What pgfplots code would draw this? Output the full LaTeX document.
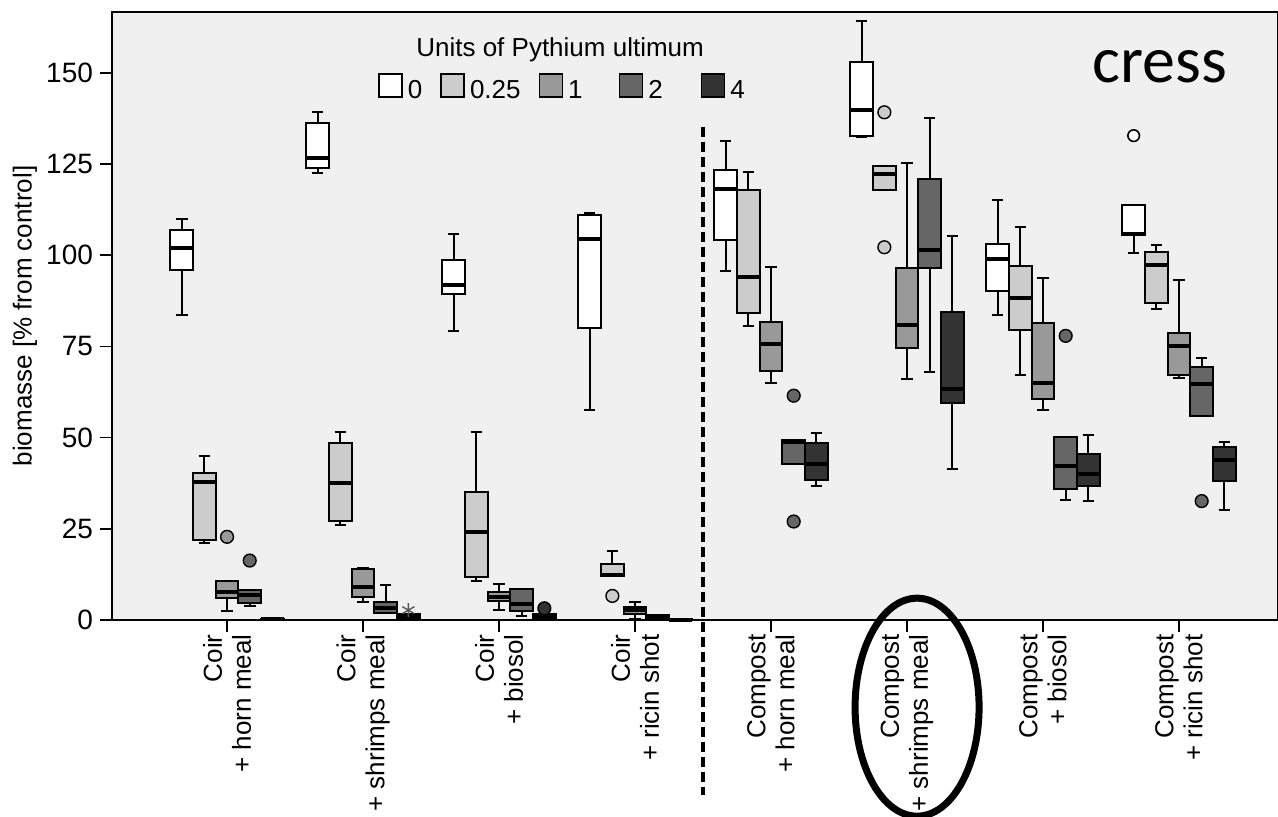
\documentclass[border=0pt]{standalone}
\usepackage{pgfplots}
\pgfplotsset{compat=1.18}
\usepackage{pgfplotstable}
\usepgfplotslibrary{statistics}
\usepackage{fontspec}
\setmainfont{Liberation Sans}
\newfontfamily\calibri{Carlito}

\definecolor{panel}{RGB}{240,240,240}
\definecolor{uA}{RGB}{255,255,255}
\definecolor{uB}{RGB}{204,204,204}
\definecolor{uC}{RGB}{153,153,153}
\definecolor{uD}{RGB}{102,102,102}
\definecolor{uE}{RGB}{51,51,51}

% Five-number summaries, one row per substrate (Coir x4, Compost x4)
\pgfplotstableread{
lw    lq    med   uq    uw
83.5  95.9  101.9 106.9 110.0
122.5 123.9 126.7 136.4 139.2
79.1  89.3  91.9  98.8  105.8
57.7  80.1  104.4 111.0 111.5
95.8  104.3 118.2 123.5 131.3
132.5 132.8 139.8 152.9 164.3
83.7  90.1  99.0  103.1 115.2
100.7 105.6 105.8 113.8 113.8
}\unitsA
\pgfplotstableread{
lw    lq    med   uq    uw
21.2  21.9  37.8  40.4  45.1
26.0  27.1  37.6  48.5  51.5
10.6  11.9  24.0  35.1  51.5
12.1  12.1  12.3  15.4  19.0
80.6  84.1  94.0  117.8 122.9
118.0 118.0 122.4 124.6 124.6
67.3  79.5  88.4  97.0  107.8
85.3  86.9  97.3  100.9 102.8
}\unitsB
\pgfplotstableread{
lw    lq    med   uq    uw
2.6   5.9   7.6   10.7  10.7
4.9   6.2   9.1   13.9  14.2
2.8   5.3   6.4   7.6   9.9
0.3   1.7   2.7   3.7   5.0
65.0  68.3  75.6  81.6  96.7
66.2  74.5  81.0  96.6  125.3
57.7  60.5  64.9  81.4  93.8
66.4  67.2  75.0  78.7  93.3
}\unitsC
\pgfplotstableread{
lw    lq    med   uq    uw
3.8   4.6   6.8   8.3   8.3
1.8   1.8   3.2   5.0   9.6
1.2   2.6   4.3   8.4   8.5
0.1   0.3   0.8   1.3   1.5
42.7  42.7  48.9  49.4  49.4
68.0  96.6  101.5 120.8 137.6
32.9  35.9  42.3  50.3  50.3
55.8  55.8  64.8  69.5  71.9
}\unitsD
\pgfplotstableread{
lw    lq    med   uq    uw
0.0   0.1   0.2   0.4   0.5
0.4   0.6   1.0   1.6   1.6
0.4   0.5   1.0   1.6   1.6
0.0   0.0   0.1   0.2   0.2
36.8  38.4  42.8  48.4  51.3
41.3  59.5  63.4  84.5  105.3
32.7  36.8  40.0  45.6  50.6
30.2  38.2  43.9  47.4  48.8
}\unitsE

\newcommand{\txt}{\fontsize{13}{14.5}\selectfont}

% one box from row #2 of table #1, drawn at x = #3 with fill #4
\newcommand{\boxrow}[4]{%
  \pgfplotstablegetelem{#2}{lw}\of#1\edef\bLW{\pgfplotsretval}%
  \pgfplotstablegetelem{#2}{lq}\of#1\edef\bLQ{\pgfplotsretval}%
  \pgfplotstablegetelem{#2}{med}\of#1\edef\bMED{\pgfplotsretval}%
  \pgfplotstablegetelem{#2}{uq}\of#1\edef\bUQ{\pgfplotsretval}%
  \pgfplotstablegetelem{#2}{uw}\of#1\edef\bUW{\pgfplotsretval}%
  \edef\doplot{\noexpand\addplot[forget plot, draw=black, fill=#4,
    boxplot prepared={draw position={#3}, lower whisker=\bLW, lower quartile=\bLQ,
      median=\bMED, upper quartile=\bUQ, upper whisker=\bUW}] coordinates {};}%
  \doplot}

\begin{document}
\begin{tikzpicture}
\begin{axis}[
  at={(0,0)}, anchor=south west,
  scale only axis, width=583pt, height=304pt,
  xmin=-0.846, xmax=7.728, ymin=0, ymax=166.7,
  clip=false,
  axis background/.style={fill=panel},
  axis line style={line width=0.8pt},
  tick style={line width=0.8pt, black},
  tick align=outside, tick pos=left, major tick length=6pt,
  ytick={0,25,50,75,100,125,150},
  xtick={0,...,7},
  xticklabels={{Coir\\+ horn meal},{Coir\\+ shrimps meal},{Coir\\+ biosol},{Coir\\+ ricin shot},
               {Compost\\+ horn meal},{Compost\\+ shrimps meal},{Compost\\+ biosol},{Compost\\+ ricin shot}},
  xticklabel style={rotate=90, anchor=east, align=right, font=\txt, inner sep=1pt},
  yticklabel style={font=\fontsize{14}{15}\selectfont},
  /pgf/number format/assume math mode=true,
  ylabel={biomasse [\% from control]},
  every axis y label/.style={at={(axis description cs:-0.0746,0.5)}, rotate=90, anchor=center, font=\txt},
  boxplot/draw direction=y,
  boxplot/box extend=0.1667,
  boxplot/whisker extend=0.085,
  boxplot/every box/.style={line width=1pt},
  boxplot/every whisker/.style={line width=1pt},
  boxplot/every median/.style={line width=2pt},
  legend columns=5,
  legend image code/.code={\draw[#1, line width=0.8pt] (0pt,-3pt) rectangle (11.5pt,8.5pt);},
  legend style={draw=none, fill=none, inner sep=0pt, at={(0.2281,0.8758)}, anchor=west,
    font=\txt, nodes={inner sep=0pt},
    /tikz/every odd column/.append style={column sep=2.5pt},
    /tikz/every even column/.append style={column sep=9pt}},
]
\addlegendimage{fill=uA, draw=black}\addlegendentry{0}
\addlegendimage{fill=uB, draw=black}\addlegendentry{0.25}
\addlegendimage{fill=uC, draw=black}\addlegendentry{1\rule{9pt}{0pt}}
\addlegendimage{fill=uD, draw=black}\addlegendentry{2\rule{10pt}{0pt}}
\addlegendimage{fill=uE, draw=black}\addlegendentry{4}

\pgfplotsinvokeforeach{0,...,7}{
  \boxrow{\unitsA}{#1}{#1-0.3333}{uA}
  \boxrow{\unitsB}{#1}{#1-0.1667}{uB}
  \boxrow{\unitsC}{#1}{#1}{uC}
  \boxrow{\unitsD}{#1}{#1+0.1667}{uD}
  \boxrow{\unitsE}{#1}{#1+0.3333}{uE}
}

% outliers
\addplot[forget plot, only marks, mark=*, mark size=2.9pt, mark options={fill=uA, draw=black, line width=0.8pt}]
  coordinates {(6.6667,132.8)};
\addplot[forget plot, only marks, mark=*, mark size=3.2pt, mark options={fill=uB, draw=black, line width=0.7pt}]
  coordinates {(4.8333,139.2) (4.8333,102.2) (2.8333,6.6)};
\addplot[forget plot, only marks, mark=*, mark size=3.2pt, mark options={fill=uC, draw=black, line width=0.7pt}]
  coordinates {(0,22.8)};
\addplot[forget plot, only marks, mark=*, mark size=3.2pt, mark options={fill=uD, draw=black, line width=0.7pt}]
  coordinates {(0.1667,16.3) (4.1667,61.5) (4.1667,27.0) (6.1667,77.9) (7.1667,32.6)};
\addplot[forget plot, only marks, mark=*, mark size=3.2pt, mark options={fill=uE, draw=black, line width=0.7pt}]
  coordinates {(2.3333,3.2)};
% extreme value
\addplot[forget plot, only marks, mark=asterisk, mark size=3.5pt, mark options={draw=black!65, line width=0.7pt}]
  coordinates {(1.3333,2.7)};

% separator between the two substrates
\draw[line width=2pt, dash pattern=on 5pt off 2.5pt] (axis cs:3.5,135.3) -- (axis cs:3.5,-48);

\node[anchor=base, inner sep=0pt, font=\txt] at (axis cs:2.449,154.5) {Units of Pythium ultimum};
\node[anchor=base west, inner sep=0pt, font=\calibri\fontsize{33}{38}\selectfont] at (axis cs:6.36,147.5) {cress};

\draw[line width=3.5pt] (axis cs:5.074,-23.9) ellipse [x radius=31pt, y radius=54.5pt];
\end{axis}
\pgfresetboundingbox
\useasboundingbox (-56pt,-98.5pt) rectangle (583pt,310pt);
\end{tikzpicture}
\end{document}
